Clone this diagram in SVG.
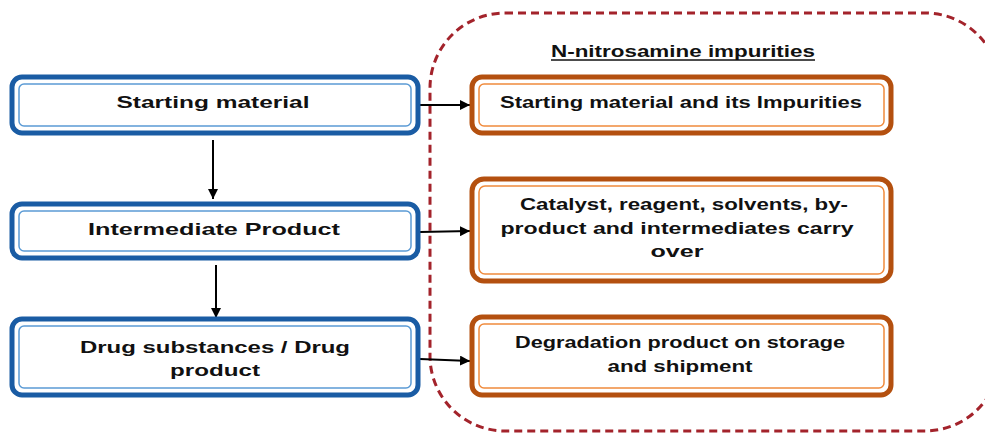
<svg xmlns="http://www.w3.org/2000/svg" width="985" height="434" viewBox="0 0 985 434">
<defs>
<style>
.bo{fill:#fff;stroke:#1a5ca4;stroke-width:5}
.bi{fill:none;stroke:#5b9bd5;stroke-width:1.5}
.oo{fill:#fff;stroke:#b4500f;stroke-width:5}
.oi{fill:none;stroke:#f08a3c;stroke-width:1.5}
.t{font-family:"Liberation Sans",Arial,sans-serif;font-weight:bold;font-size:17px;fill:#111;text-anchor:middle}
.c{stroke:#000;stroke-width:2;fill:none}
</style>
<marker id="ah" viewBox="0 0 10 10" refX="10" refY="5" markerWidth="10" markerHeight="10" markerUnits="userSpaceOnUse" orient="auto">
<path d="M0,0 L10,5 L0,10 z" fill="#000"/>
</marker>
</defs>
<rect width="985" height="434" fill="#fff"/>
<g id="group-nitrosamine">
<rect x="430" y="13" width="570" height="418" rx="75" ry="75" fill="none" stroke="#a3232b" stroke-width="3" stroke-dasharray="8 5"/>
<text class="t" x="683" y="57" textLength="264" lengthAdjust="spacingAndGlyphs">N-nitrosamine impurities</text>
<line x1="551" y1="60" x2="815" y2="60" stroke="#111" stroke-width="1.5"/>
</g>
<g id="connectors">
<line class="c" x1="420" y1="105" x2="470" y2="105" marker-end="url(#ah)"/>
<line class="c" x1="420" y1="232" x2="470" y2="231" marker-end="url(#ah)"/>
<line class="c" x1="420" y1="359" x2="470" y2="361" marker-end="url(#ah)"/>
<line class="c" x1="213" y1="140" x2="213" y2="199" marker-end="url(#ah)"/>
<line class="c" x1="216" y1="265" x2="216" y2="318" marker-end="url(#ah)"/>
</g>
<g id="n-starting">
<rect class="bo" x="12" y="77" width="406" height="56" rx="10"/>
<rect class="bi" x="19" y="84" width="392" height="42" rx="5"/>
<text class="t" x="213" y="108" textLength="193" lengthAdjust="spacingAndGlyphs">Starting material</text>
</g>
<g id="n-intermediate">
<rect class="bo" x="12" y="204" width="406" height="54" rx="10"/>
<rect class="bi" x="19" y="211" width="392" height="40" rx="5"/>
<text class="t" x="214" y="235" textLength="252" lengthAdjust="spacingAndGlyphs">Intermediate Product</text>
</g>
<g id="n-drug">
<rect class="bo" x="12" y="319" width="406" height="76" rx="10"/>
<rect class="bi" x="19" y="326" width="392" height="62" rx="5"/>
<text class="t" x="215" y="353" textLength="270" lengthAdjust="spacingAndGlyphs">Drug substances / Drug</text>
<text class="t" x="215" y="376" textLength="90" lengthAdjust="spacingAndGlyphs">product</text>
</g>
<g id="n-sm-impurities">
<rect class="oo" x="472" y="77" width="419" height="56" rx="10"/>
<rect class="oi" x="479" y="84" width="405" height="42" rx="5"/>
<text class="t" x="681" y="108" textLength="362" lengthAdjust="spacingAndGlyphs">Starting material and its Impurities</text>
</g>
<g id="n-catalyst">
<rect class="oo" x="472" y="179" width="419" height="102" rx="12"/>
<rect class="oi" x="479" y="186" width="405" height="88" rx="6"/>
<text class="t" x="684" y="210" textLength="328" lengthAdjust="spacingAndGlyphs">Catalyst, reagent, solvents, by-</text>
<text class="t" x="677" y="234" textLength="353" lengthAdjust="spacingAndGlyphs">product and intermediates carry</text>
<text class="t" x="677" y="257" textLength="53" lengthAdjust="spacingAndGlyphs">over</text>
</g>
<g id="n-degradation">
<rect class="oo" x="472" y="317" width="419" height="78" rx="10"/>
<rect class="oi" x="479" y="324" width="405" height="64" rx="5"/>
<text class="t" x="680" y="348" textLength="330" lengthAdjust="spacingAndGlyphs">Degradation product on storage</text>
<text class="t" x="680" y="372" textLength="145" lengthAdjust="spacingAndGlyphs">and shipment</text>
</g>
</svg>
